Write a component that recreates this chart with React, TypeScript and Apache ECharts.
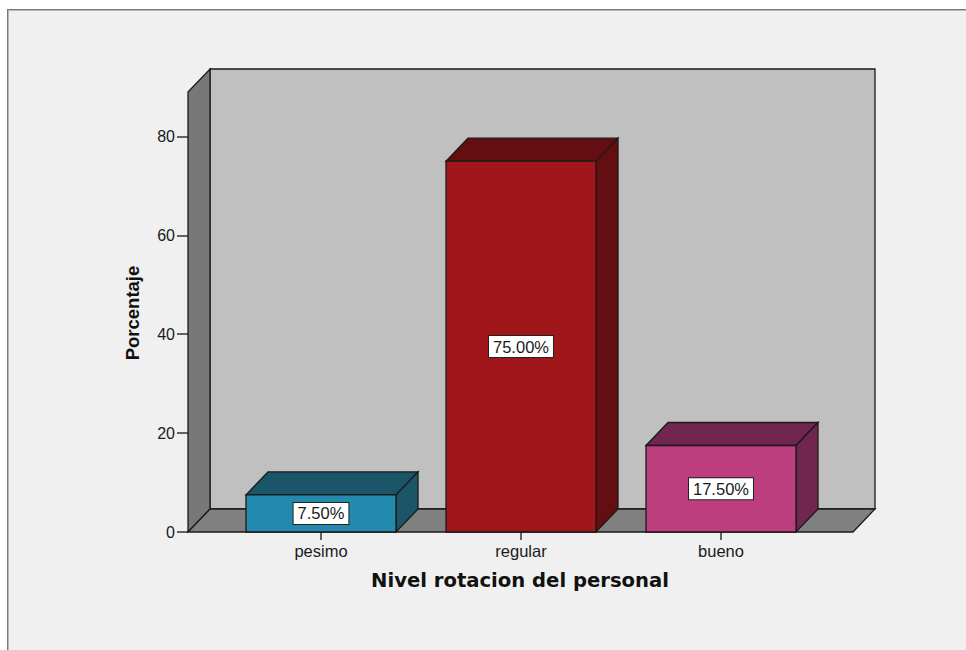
import React, { useEffect, useRef } from "react";
import * as echarts from "echarts";

// Rotation level categories and their share of staff (%)
const categories = ["pesimo", "regular", "bueno"];
const percentages = [7.5, 75.0, 17.5];
const yTickValues = [0, 20, 40, 60, 80];

// Face colours: front face, and the darker top/side faces
const frontColors = ["#238AAE", "#A1161B", "#BC3E7E"];
const shadeColors = ["#1A5568", "#640E11", "#712650"];

const xTitle = "Nivel rotacion del personal";
const yTitle = "Porcentaje";

// Oblique depth of the 3D box
const DEPTH_X = 22;
const DEPTH_Y = 23;
const OUTLINE = "#1a1a1a";

// Plot box in pixels (front plane of the box)
const AXIS_X = 188; // front edge of the left wall / y axis
const FLOOR_RIGHT = 853;
const PLOT_TOP = 92;
const PLOT_BOTTOM = 532;

export default function App() {
  const ref = useRef<HTMLDivElement>(null);

  useEffect(() => {
    document.body.style.margin = "0";
    const chart = echarts.init(ref.current!, null, { renderer: "svg" });

    const backTop = PLOT_TOP - DEPTH_Y;
    const backBottom = PLOT_BOTTOM - DEPTH_Y;
    const backLeft = AXIS_X + DEPTH_X;
    const backRight = FLOOR_RIGHT + DEPTH_X;

    chart.setOption({
      animation: false,
      grid: {
        left: 221,
        width: 600,
        top: PLOT_TOP,
        height: PLOT_BOTTOM - PLOT_TOP,
      },
      xAxis: {
        type: "category",
        data: categories,
        axisLine: { show: false },
        axisTick: {
          show: true,
          alignWithLabel: true,
          length: 8,
          lineStyle: { color: "#333", width: 1.5 },
        },
        axisLabel: {
          margin: 10,
          color: "#1a1a1a",
          fontFamily: "Liberation Sans",
          fontSize: 16.5,
        },
        splitLine: { show: false },
      },
      yAxis: {
        type: "value",
        min: 0,
        max: 89,
        interval: 20,
        offset: 221 - AXIS_X,
        axisLine: { show: false },
        axisTick: {
          show: true,
          length: 11,
          customValues: yTickValues,
          lineStyle: { color: "#333", width: 1.5 },
        },
        axisLabel: {
          margin: 13,
          customValues: yTickValues,
          color: "#1a1a1a",
          fontFamily: "Liberation Sans",
          fontSize: 16,
        },
        splitLine: { show: false },
      },
      graphic: [
        // back wall
        {
          type: "rect",
          z: 1,
          shape: {
            x: backLeft,
            y: backTop,
            width: backRight - backLeft,
            height: backBottom - backTop,
          },
          style: { fill: "#C0C0C0", stroke: OUTLINE, lineWidth: 1.3 },
        },
        // left wall
        {
          type: "polygon",
          z: 1,
          shape: {
            points: [
              [AXIS_X, PLOT_TOP],
              [backLeft, backTop],
              [backLeft, backBottom],
              [AXIS_X, PLOT_BOTTOM],
            ],
          },
          style: { fill: "#787878", stroke: OUTLINE, lineWidth: 1.3 },
        },
        // floor
        {
          type: "polygon",
          z: 1,
          shape: {
            points: [
              [AXIS_X, PLOT_BOTTOM],
              [FLOOR_RIGHT, PLOT_BOTTOM],
              [backRight, backBottom],
              [backLeft, backBottom],
            ],
          },
          style: { fill: "#808080", stroke: OUTLINE, lineWidth: 1.3 },
        },
        {
          type: "text",
          z: 1,
          x: 520,
          y: 580,
          style: {
            text: xTitle,
            align: "center",
            verticalAlign: "middle",
            font: 'bold 19.6px "DejaVu Sans"',
            fill: "#111",
          },
        },
        {
          type: "text",
          z: 1,
          x: 132,
          y: 313,
          rotation: Math.PI / 2,
          style: {
            text: yTitle,
            align: "center",
            verticalAlign: "middle",
            font: 'bold 18.5px "Liberation Sans"',
            fill: "#111",
          },
        },
      ],
      series: [
        {
          type: "custom",
          z: 10,
          data: percentages.map((v, i) => [i, v]),
          encode: { x: 0, y: 1 },
          renderItem: (params: any, api: any) => {
            const i = params.dataIndex;
            const cat = api.value(0);
            const val = api.value(1);
            const base = api.coord([cat, 0]);
            const top = api.coord([cat, val]);
            const band = api.size([1, 0])[0];
            const half = band * 0.375;
            const x0 = base[0] - half;
            const x1 = base[0] + half;
            const y0 = base[1];
            const y1 = top[1];
            const lineStyle = { stroke: OUTLINE, lineWidth: 1.3 };
            return {
              type: "group",
              children: [
                {
                  type: "polygon",
                  shape: {
                    points: [
                      [x0, y1],
                      [x0 + DEPTH_X, y1 - DEPTH_Y],
                      [x1 + DEPTH_X, y1 - DEPTH_Y],
                      [x1, y1],
                    ],
                  },
                  style: { fill: shadeColors[i], ...lineStyle },
                },
                {
                  type: "polygon",
                  shape: {
                    points: [
                      [x1, y1],
                      [x1 + DEPTH_X, y1 - DEPTH_Y],
                      [x1 + DEPTH_X, y0 - DEPTH_Y],
                      [x1, y0],
                    ],
                  },
                  style: { fill: shadeColors[i], ...lineStyle },
                },
                {
                  type: "rect",
                  shape: { x: x0, y: y1, width: x1 - x0, height: y0 - y1 },
                  style: { fill: frontColors[i], ...lineStyle },
                },
                {
                  type: "text",
                  x: base[0],
                  y: (y0 + y1) / 2,
                  style: {
                    text: val.toFixed(2) + "%",
                    align: "center",
                    verticalAlign: "middle",
                    font: '16.5px "Liberation Sans"',
                    fill: "#1a1a1a",
                    backgroundColor: "#ffffff",
                    borderColor: "#222",
                    borderWidth: 1,
                    padding: [2, 4, 2, 4],
                  },
                },
              ],
            };
          },
        },
      ],
    });

    return () => chart.dispose();
  }, []);

  return (
    <div
      style={{
        position: "relative",
        width: 966,
        height: 650,
        background: "#ffffff",
        overflow: "hidden",
      }}
    >
      <div
        style={{
          position: "absolute",
          left: 7,
          top: 9,
          width: 1000,
          height: 700,
          background: "#F0F0F0",
          borderLeft: "1px solid #7a7a7a",
          borderTop: "1px solid #7a7a7a",
          boxShadow: "inset 1px 1px 0 #b8b8b8",
        }}
      />
      <div
        ref={ref}
        style={{ position: "absolute", left: 0, top: 0, width: 966, height: 650 }}
      />
    </div>
  );
}
